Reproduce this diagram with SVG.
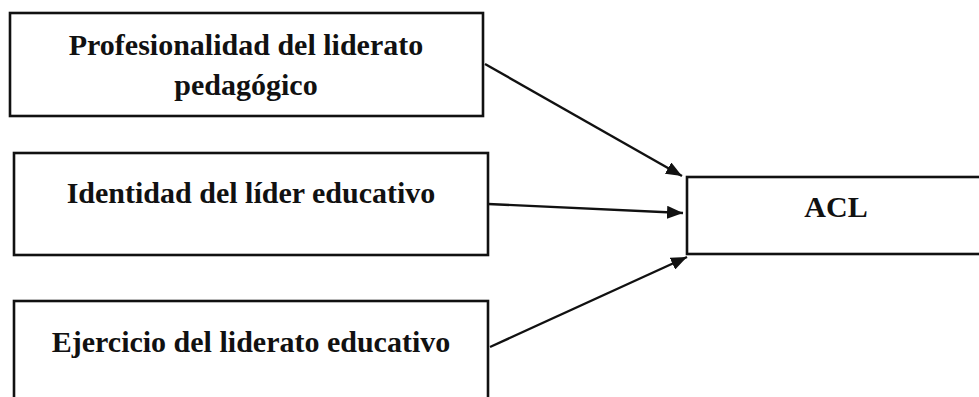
<svg xmlns="http://www.w3.org/2000/svg" width="979" height="397" viewBox="0 0 979 397">
<style>
.box{fill:#fff;stroke:#111;stroke-width:2.6}
.t{font-family:"Liberation Serif","Times New Roman",serif;font-weight:bold;font-size:30px;fill:#111;text-anchor:middle}
.c{stroke:#111;stroke-width:2.4;fill:none;marker-end:url(#ah)}
</style>
<defs>
<marker id="ah" viewBox="0 0 16 13" refX="16" refY="6.5" markerWidth="16" markerHeight="13" markerUnits="userSpaceOnUse" orient="auto">
<path d="M0,0 L16,6.5 L0,13 z" fill="#111"/>
</marker>
</defs>
<rect width="979" height="397" fill="#fff"/>
<g id="n1"><rect class="box" x="10" y="13" width="473" height="103"/>
<text class="t" x="246" y="55">Profesionalidad del liderato</text>
<text class="t" x="246" y="95">pedagógico</text></g>
<g id="n2"><rect class="box" x="14" y="153" width="474" height="102"/>
<text class="t" x="251" y="203">Identidad del líder educativo</text></g>
<g id="n3"><rect class="box" x="14" y="301" width="474" height="120"/>
<text class="t" x="251" y="352">Ejercicio del liderato educativo</text></g>
<g id="n4"><rect class="box" x="687" y="177" width="320" height="77"/>
<text class="t" x="836" y="217">ACL</text></g>
<g id="connectors">
<line class="c" x1="485" y1="64" x2="682" y2="176"/>
<line class="c" x1="488" y1="204" x2="683" y2="213"/>
<line class="c" x1="490" y1="347" x2="687" y2="257"/>
</g>
</svg>
